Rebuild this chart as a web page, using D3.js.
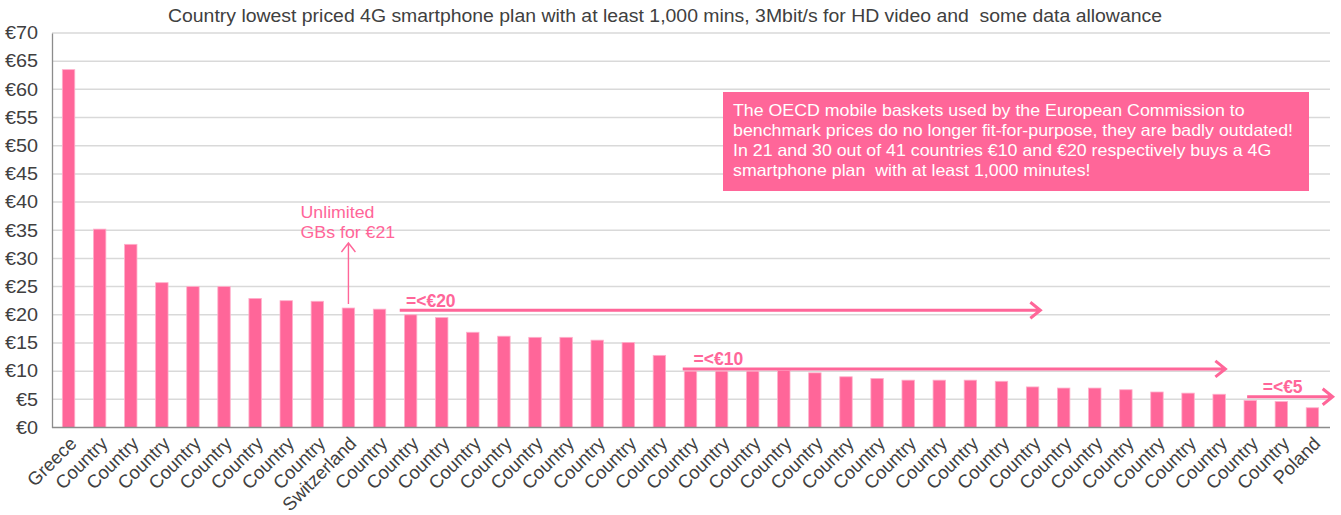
<!DOCTYPE html>
<html><head><meta charset="utf-8">
<script src="https://cdn.jsdelivr.net/npm/d3@7"></script>
<style>
html,body{margin:0;padding:0;background:#fff;}
svg text{font-family:"Liberation Sans",Arial,sans-serif;white-space:pre;}
</style></head>
<body>
<svg id="chart" width="1341" height="515"></svg>
<script>
// ---------- data ----------
const categories = ["Greece","Country","Country","Country","Country","Country","Country","Country","Country","Switzerland",
  "Country","Country","Country","Country","Country","Country","Country","Country","Country","Country",
  "Country","Country","Country","Country","Country","Country","Country","Country","Country","Country",
  "Country","Country","Country","Country","Country","Country","Country","Country","Country","Country","Poland"];
const prices = [63.5,35.2,32.5,25.7,25.0,25.0,22.9,22.5,22.4,21.2,
  21.0,20.0,19.5,16.9,16.2,16.0,16.0,15.5,15.1,12.8,
  10.0,10.0,10.0,10.1,9.7,9.0,8.7,8.4,8.4,8.4,
  8.2,7.2,7.0,7.0,6.7,6.3,6.1,5.9,4.8,4.6,3.5];
const yTicks = [0,5,10,15,20,25,30,35,40,45,50,55,60,65,70];
const subtitle = "Country lowest priced 4G smartphone plan with at least 1,000 mins, 3Mbit/s for HD video and  some data allowance";
const boxLines = ["The OECD mobile baskets used by the European Commission to",
  "benchmark prices do no longer fit-for-purpose, they are badly outdated!",
  "In 21 and 30 out of 41 countries €10 and €20 respectively buys a 4G",
  "smartphone plan  with at least 1,000 minutes!"];
const calloutLines = ["Unlimited","GBs for €21"];
// threshold arrows: label, level (€), from/to/label positions in category-slot units
const arrowLabels = ["=<€20","=<€10","=<€5"];
const arrowLevels = [20.8,10.4,5.45];
const arrowFrom = [11.15,20.25,38.4];
const arrowTo = [31.75,37.7,41.15];
const arrowLabelAt = [11.35,20.6,38.9];

// ---------- layout ----------
const pink = "#ff6699";
const textCol = "#404040";
const svg = d3.select("#chart");
const pLeft = 53, pRight = 1328, pTop = 33, pBottom = 427.5;

// widen horizontal text slightly (reference rendering is a bit stretched)
function stretch(sel, factor){
  sel.each(function(){
    const w = this.getComputedTextLength();
    d3.select(this).attr("textLength", w*factor).attr("lengthAdjust","spacingAndGlyphs");
  });
}

const x = d3.scaleBand().domain(d3.range(categories.length)).range([pLeft,pRight]).paddingInner(0.6).paddingOuter(0.3);
const y = d3.scaleLinear().domain([0,70]).range([pBottom,pTop]);
const slot = t => pLeft + t * x.step();

// subtitle
const sub = svg.append("text").attr("x",665).attr("y",21.5).attr("text-anchor","middle")
  .attr("font-size",17.5).attr("fill",textCol).text(subtitle);
stretch(sub, 994/sub.node().getComputedTextLength());

// gridlines
svg.append("g").selectAll("line").data(yTicks.filter(d=>d>0)).join("line")
  .attr("x1",pLeft-1).attr("x2",pRight+2).attr("y1",d=>y(d)).attr("y2",d=>y(d))
  .attr("stroke","#d9d9d9").attr("stroke-width",1.5);

// y axis
const yAxis = svg.append("g").attr("transform",`translate(${pLeft-1},0)`)
  .call(d3.axisLeft(y).tickValues(yTicks).tickSize(0).tickPadding(14).tickFormat(d=>"€"+d));
yAxis.select(".domain").attr("stroke","#8c8c8c").attr("stroke-width",1.3);
yAxis.selectAll("text").attr("font-size",18).attr("fill",textCol).attr("font-family","Liberation Sans, Arial, sans-serif");
stretch(yAxis.selectAll("text"), 1.1);

// bars
svg.append("g").selectAll("rect").data(prices).join("rect")
  .attr("x",(d,i)=>x(i)).attr("width",x.bandwidth())
  .attr("y",d=>y(d)).attr("height",d=>y(0)-y(d))
  .attr("fill",pink).attr("stroke","#ffb0cb").attr("stroke-width",0.8);

// x axis
const xAxis = svg.append("g").attr("transform",`translate(0,${pBottom})`)
  .call(d3.axisBottom(x).tickSize(0).tickFormat(i=>categories[i]));
xAxis.select(".domain").attr("stroke","#8c8c8c").attr("stroke-width",1.5).attr("d",`M${pLeft-1},0H${pRight+2}`);
xAxis.selectAll("text").attr("font-size",18.5).attr("fill",textCol)
  .attr("font-family","Liberation Sans, Arial, sans-serif")
  .attr("text-anchor","end").attr("dy",0)
  .attr("transform","translate(7,15) rotate(-45)");

// callout box
const bx = 723, by = 92, bw = 586, bh = 99;
svg.append("rect").attr("x",bx).attr("y",by).attr("width",bw).attr("height",bh).attr("fill",pink);
const bl = svg.append("g").selectAll("text").data(boxLines).join("text")
  .attr("x",bx+10).attr("y",(d,i)=>by+23.5+i*20).attr("font-size",16.5).attr("fill","#fff").text(d=>d);
const boxFactor = 560/bl.nodes()[1].getComputedTextLength();
stretch(bl, boxFactor);

// Unlimited callout
const cx = x(9)+x.bandwidth()/2;
const cl = svg.append("g").selectAll("text").data(calloutLines).join("text")
  .attr("x",300.5).attr("y",(d,i)=>217.5+i*20.5).attr("font-size",16.5).attr("fill",pink).text(d=>d);
stretch(cl, 74/cl.nodes()[0].getComputedTextLength());
const aTop = 243, aBot = y(prices[9]) - 4;
svg.append("path").attr("d",`M${cx},${aBot}V${aTop}M${cx-7},${aTop+9}L${cx},${aTop}L${cx+7},${aTop+9}`)
  .attr("fill","none").attr("stroke",pink).attr("stroke-width",1.4);

// threshold arrows
arrowLabels.forEach((lab,i)=>{
  const yy = y(arrowLevels[i]);
  const x1 = slot(arrowFrom[i]), x2 = slot(arrowTo[i]);
  svg.append("path").attr("d",`M${x1},${yy}H${x2-1}M${x2-10},${yy-8}L${x2},${yy}L${x2-10},${yy+8}`)
    .attr("fill","none").attr("stroke",pink).attr("stroke-width",3).attr("stroke-linejoin","miter");
  svg.append("text").attr("x",slot(arrowLabelAt[i])).attr("y",yy-3.5)
    .attr("font-size",17.5).attr("font-weight","bold").attr("fill",pink).text(lab);
});
</script>
</body></html>
